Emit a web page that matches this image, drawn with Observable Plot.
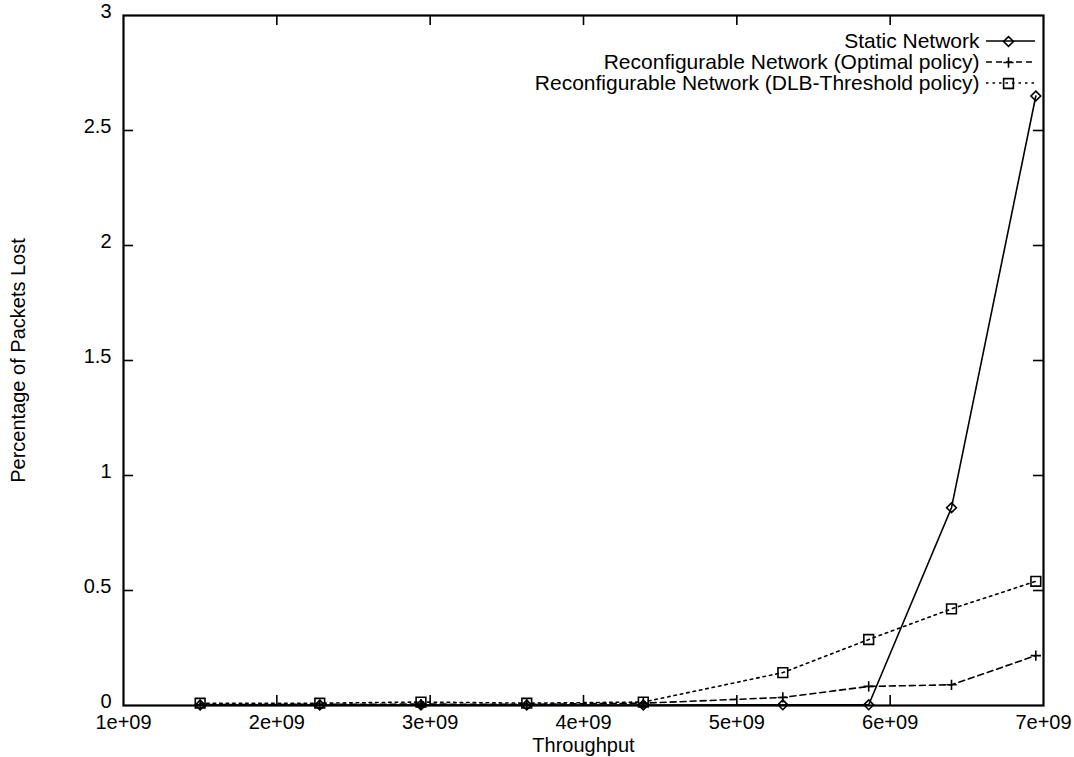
<!DOCTYPE html>
<html>
<head>
<meta charset="utf-8">
<script src="https://cdn.jsdelivr.net/npm/d3@7"></script>
<script src="https://cdn.jsdelivr.net/npm/@observablehq/plot@0.6"></script>
<style>
  html, body { margin: 0; padding: 0; background: #fff; }
  svg { display: block; }
</style>
</head>
<body>
<div id="chart"></div>
<script>
// ---- data ----
const throughput  = [1.50e9, 2.28e9, 2.94e9, 3.63e9, 4.39e9, 5.30e9, 5.86e9, 6.40e9, 6.95e9];
const staticLoss  = [0.002, 0.002, 0.002, 0.002, 0.002, 0.003, 0.003, 0.86, 2.65];
const optimalLoss = [0.004, 0.005, 0.006, 0.005, 0.010, 0.035, 0.083, 0.090, 0.217];
const dlbLoss     = [0.010, 0.010, 0.015, 0.010, 0.015, 0.143, 0.287, 0.420, 0.540];
const seriesNames = ["Static Network", "Reconfigurable Network (Optimal policy)", "Reconfigurable Network (DLB-Threshold policy)"];
const xTicks = [1e9, 2e9, 3e9, 4e9, 5e9, 6e9, 7e9];
const yTicks = [0, 0.5, 1, 1.5, 2, 2.5, 3];
const xTickLabels = ["1e+09", "2e+09", "3e+09", "4e+09", "5e+09", "6e+09", "7e+09"];
const yTickLabels = ["0", "0.5", "1", "1.5", "2", "2.5", "3"];
const xTitle = "Throughput";
const yTitle = "Percentage of Packets Lost";

// ---- layout ----
const W = 1074, H = 757;
const mL = 123, mR = 31, mT = 15, mB = 52;
const fw = W - mL - mR, fh = H - mT - mB;
const FONT = "'Liberation Sans', Arial, Helvetica, sans-serif";
const FS = 20;
const LFS = 21;

const styles = [
  {symbol: "diamond2", r: 4.4, dash: null},
  {symbol: "plus", r: 3.4, dash: "6,4"},
  {symbol: "square2", r: 6.2, dash: "2.5,4"}
];
const seriesValues = [staticLoss, optimalLoss, dlbLoss];

const rows = [];
seriesValues.forEach((vals, s) => vals.forEach((v, i) => rows.push({s, x: throughput[i], y: v})));

const marks = [];
const tickLen = 10;
// inward ticks on all four sides (gnuplot style)
marks.push(Plot.tickX(xTicks.slice(1, -1), {x: d => d, insetTop: fh - tickLen, stroke: "black", strokeWidth: 1.6}));
marks.push(Plot.tickX(xTicks.slice(1, -1), {x: d => d, insetBottom: fh - tickLen, stroke: "black", strokeWidth: 1.6}));
marks.push(Plot.tickY(yTicks.slice(1, -1), {y: d => d, insetRight: fw - tickLen, stroke: "black", strokeWidth: 1.6}));
marks.push(Plot.tickY(yTicks.slice(1, -1), {y: d => d, insetLeft: fw - tickLen, stroke: "black", strokeWidth: 1.6}));

seriesValues.forEach((vals, s) => {
  const data = rows.filter(d => d.s === s);
  marks.push(Plot.line(data, {x: "x", y: "y", stroke: "black", strokeWidth: 1.6, strokeDasharray: styles[s].dash}));
  marks.push(Plot.dot(data, {x: "x", y: "y", symbol: styles[s].symbol, r: styles[s].r, stroke: "black", fill: "none", strokeWidth: 1.6}));
});

marks.push(Plot.frame({stroke: "black", strokeWidth: 2.2}));
// tick labels
marks.push(Plot.text(xTicks, {x: d => d, frameAnchor: "bottom", dy: 17, text: (d, i) => xTickLabels[i], fontSize: FS, lineAnchor: "middle", textAnchor: "middle"}));
marks.push(Plot.text(yTicks, {y: d => d, frameAnchor: "left", dx: -12, dy: -4, text: (d, i) => yTickLabels[i], fontSize: FS, lineAnchor: "middle", textAnchor: "end"}));
marks.push(Plot.text([xTitle], {frameAnchor: "bottom", dy: 40, text: d => d, fontSize: FS, lineAnchor: "middle", textAnchor: "middle"}));
marks.push(Plot.text([yTitle], {frameAnchor: "left", dx: -105, rotate: -90, text: d => d, fontSize: FS, lineAnchor: "middle", textAnchor: "middle"}));

// legend texts
const legTextRight = 64; // px from frame right
seriesNames.forEach((name, s) => {
  marks.push(Plot.text([name], {frameAnchor: "top-right", dx: -legTextRight, dy: 26 + s * 21, text: d => d, textAnchor: "end", lineAnchor: "middle", fontSize: LFS}));
  marks.push(Plot.dot([name], {frameAnchor: "top-right", dx: -35, dy: 26 + s * 21, symbol: styles[s].symbol, r: styles[s].r, stroke: "black", fill: "none", strokeWidth: 1.6}));
});

const plot = Plot.plot({
  width: W, height: H,
  marginLeft: mL, marginRight: mR, marginTop: mT, marginBottom: mB,
  style: {fontFamily: FONT, fontSize: FS + "px", color: "black", background: "white"},
  x: {domain: [1e9, 7e9], axis: null},
  y: {domain: [0, 3], axis: null},
  marks
});

// legend sample lines
const svg = d3.select(plot);
const frameRight = W - mR;
seriesNames.forEach((name, s) => {
  const y = mT + 26 + s * 21;
  svg.append("line")
    .attr("x1", frameRight - legTextRight + 7).attr("x2", frameRight - 8)
    .attr("y1", y).attr("y2", y)
    .attr("stroke", "black").attr("stroke-width", 1.6)
    .attr("stroke-dasharray", styles[s].dash);
});
document.getElementById("chart").appendChild(plot);
</script>
</body>
</html>
